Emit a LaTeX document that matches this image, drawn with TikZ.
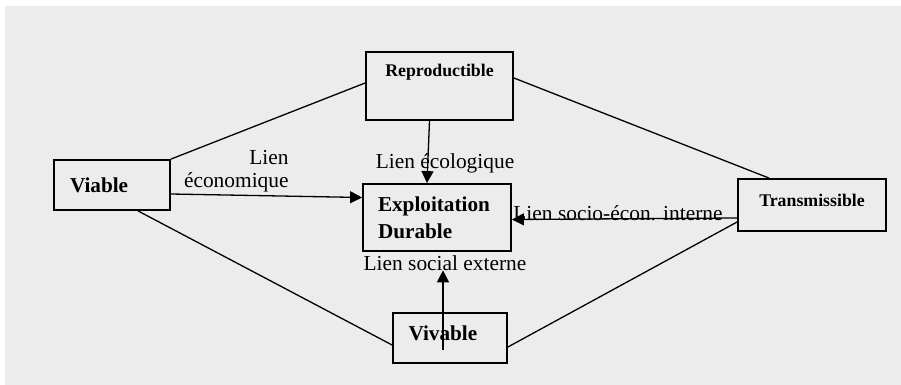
\documentclass[tikz,border=0pt]{standalone}
\usepackage{fontspec}
\setmainfont{Liberation Serif}
\usetikzlibrary{calc,arrows.meta}
\definecolor{scanbg}{RGB}{236,236,236}

\begin{document}
\begin{tikzpicture}[x=0.5pt,y=-0.5pt,
  box/.style={draw,line width=0.9pt,inner sep=0pt,
    font=\fontsize{10.6}{13.5}\selectfont\bfseries},
  smallbox/.style={box,font=\fontsize{8.9}{10}\selectfont\bfseries},
  lien/.style={inner sep=0pt,font=\fontsize{10.7}{11.5}\selectfont},
  link/.style={line width=0.65pt},
  arr/.style={line width=0.65pt,-{Triangle[length=6pt,width=6pt]}}]

\useasboundingbox (0,0) rectangle (901,385);
\fill[scanbg] (5,6) rectangle (901,385);

\node[smallbox,minimum width=73.5pt,minimum height=34pt,text depth=16pt] (repro) at (439.5,86) {Reproductible};
\node[box,minimum width=58pt,minimum height=25pt,text width=42pt,align=left] (viable) at (112,185) {Viable};
\node[box,minimum width=74pt,minimum height=33.5pt,text width=59pt,align=left] (expl) at (437,217.5) {Exploitation\\Durable};
\node[smallbox,minimum width=74pt,minimum height=26pt,text depth=5pt] (trans) at (812,205) {Transmissible};
\node[box,minimum width=57pt,minimum height=25pt,text width=41.5pt,align=left,text depth=5pt] (vivable) at (450,338) {Vivable};

\node[lien] (ecol) at (445,163) {Lien écologique};
\node[lien,align=right,anchor=east] (econ) at (289,171.5) {Lien\\économique};
\node[lien] (socint) at (618,213) {Lien socio-écon. interne};
\node[lien] (socext) at (445,263) {Lien social externe};

\draw[link] (viable.north east) -- ([yshift=1.5pt]repro.west);
\draw[link] ([yshift=4pt]repro.east) -- ([xshift=16pt]trans.north west);
\draw[link] ([xshift=13pt]viable.south) -- ([yshift=-3.5pt]vivable.west);
\draw[link] ([yshift=-4.5pt]vivable.east) -- ([yshift=-8.5pt]trans.west);

\draw[arr] ([xshift=-5pt]repro.south) -- ([xshift=-5pt]expl.north);
\draw[arr] ([yshift=-4.5pt]viable.east) -- ([yshift=10pt]expl.west);
\draw[arr] ([yshift=-6.5pt]trans.west) -- ([yshift=-1pt]expl.east);
\coordinate (vivfoot) at (443,350);
\draw[arr] (vivfoot) -- (vivfoot |- socext.base);

\end{tikzpicture}
\end{document}
